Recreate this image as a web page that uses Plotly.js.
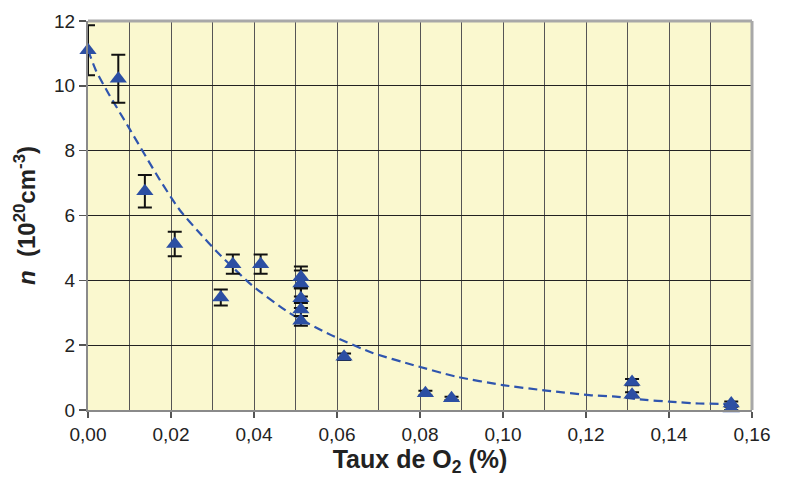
<!DOCTYPE html>
<html>
<head>
<meta charset="utf-8">
<script src="https://cdn.plot.ly/plotly-3.0.1.min.js"></script>
<style>html,body{margin:0;padding:0;background:#fff;}#chart{width:787px;height:482px;}</style>
</head>
<body>
<div id="chart"></div>
<script>
// Measured points: O2 rate (%) and carrier density n (10^20 cm^-3)
const o2Rate = [0, 0.0073, 0.0137, 0.0209, 0.032, 0.0349, 0.0416, 0.0513, 0.0513, 0.0513, 0.0513, 0.0513, 0.0617, 0.0813, 0.0876, 0.1311, 0.1311, 0.155, 0.155];
const nValues = [11.1, 10.22, 6.75, 5.12, 3.47, 4.5, 4.5, 4.1, 3.9, 3.45, 3.1, 2.75, 1.64, 0.52, 0.36, 0.86, 0.47, 0.2, 0.05];
const nErrors = [0.77, 0.74, 0.5, 0.38, 0.25, 0.3, 0.3, 0.33, 0.4, 0.3, 0.2, 0.15, 0.1, 0.07, 0.05, 0.1, 0.08, 0.06, 0.05];

// Dashed trend curve
const trendX = [0, 0.002, 0.005, 0.0097, 0.0173, 0.0221, 0.0269, 0.031, 0.0394, 0.0486, 0.0586, 0.0686, 0.0783, 0.0887, 0.0999, 0.1104, 0.1216, 0.1264, 0.1344, 0.14, 0.1472, 0.1545];
const trendY = [11.1, 10.45, 9.75, 8.74, 7.1, 6.17, 5.46, 4.89, 3.86, 2.99, 2.31, 1.76, 1.39, 1.03, 0.77, 0.6, 0.45, 0.42, 0.31, 0.26, 0.2, 0.19];

const xTickVals = [0, 0.02, 0.04, 0.06, 0.08, 0.10, 0.12, 0.14, 0.16];
const yTickVals = [0, 2, 4, 6, 8, 10, 12];

const blue = '#2C4FA3';

const traces = [
  {
    x: trendX, y: trendY, type: 'scatter', mode: 'lines',
    line: {color: '#2F55AE', width: 2.2, dash: '9px,5px', shape: 'spline', smoothing: 0.6},
    hoverinfo: 'skip', showlegend: false
  },
  {
    x: o2Rate, y: nValues, type: 'scatter', mode: 'markers',
    marker: {symbol: 'triangle-up', size: 15, color: blue},
    error_y: {type: 'data', array: nErrors, visible: true, color: '#111', thickness: 2, width: 7},
    cliponaxis: false,
    showlegend: false
  }
];

const layout = {
  width: 787, height: 482,
  margin: {l: 88, r: 35, t: 21, b: 72},
  paper_bgcolor: '#ffffff',
  plot_bgcolor: '#FAF8CF',
  separators: ', ',
  font: {family: 'Liberation Sans, Arial, sans-serif', color: '#222', size: 19},
  xaxis: {
    range: [0, 0.16], tickvals: xTickVals, tickformat: '.2f',
    showgrid: true, gridcolor: '#555', gridwidth: 1,
    minor: {dtick: 0.01, showgrid: true, gridcolor: '#555', gridwidth: 1, ticks: ''},
    ticks: 'outside', ticklen: 6, tickcolor: '#555', tickwidth: 1.5,
    showline: true, linecolor: '#8a8a8a', linewidth: 2,
    zeroline: false,
    tickfont: {size: 19, color: '#222'},
    title: {text: '<b>Taux de O<sub>2</sub> (%)</b>', font: {family: 'Liberation Sans Narrow, Arial Narrow, Liberation Sans, sans-serif', size: 25, color: '#222'}, standoff: 4}
  },
  yaxis: {
    range: [0, 12], tickvals: yTickVals,
    showgrid: true, gridcolor: '#222', gridwidth: 1,
    ticks: 'outside', ticklen: 7, tickcolor: '#555', tickwidth: 1.5,
    showline: true, linecolor: '#8a8a8a', linewidth: 2,
    zeroline: false,
    tickfont: {size: 19, color: '#222'},
    title: {text: '<b><i>n</i>  (10<sup>20</sup>cm<sup>-3</sup>)</b>', font: {family: 'Liberation Sans, Arial, sans-serif', size: 24, color: '#222'}, standoff: 12}
  },
  shapes: [
    {type: 'line', xref: 'paper', yref: 'paper', x0: 0, x1: 1, y0: 1, y1: 1, line: {color: '#a8a8a8', width: 3}},
    {type: 'line', xref: 'paper', yref: 'paper', x0: 1, x1: 1, y0: 0, y1: 1, line: {color: '#a8a8a8', width: 3}}
  ]
};

Plotly.newPlot('chart', traces, layout, {displayModeBar: false, staticPlot: true});
</script>
</body>
</html>
